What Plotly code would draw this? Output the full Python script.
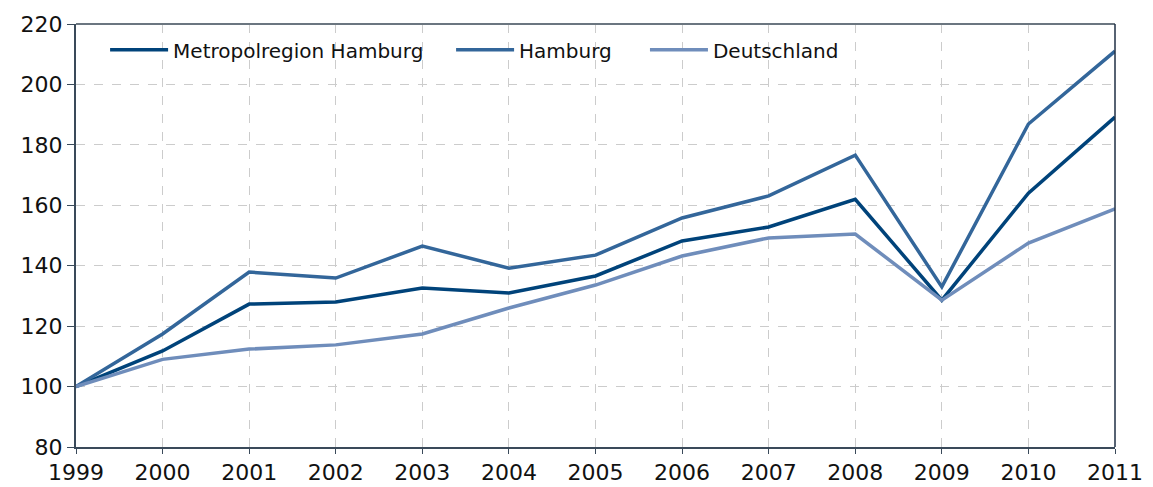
import plotly.graph_objects as go

years = [1999, 2000, 2001, 2002, 2003, 2004, 2005, 2006, 2007, 2008, 2009, 2010, 2011]
metropolregion = [100, 111.8, 127.3, 128.0, 132.6, 131.0, 136.6, 148.2, 152.8, 162.0, 128.6, 164.0, 189.2]
hamburg = [100, 117.4, 137.9, 135.9, 146.5, 139.2, 143.5, 155.8, 163.1, 176.6, 133.0, 186.9, 211.0]
deutschland = [100, 109.0, 112.4, 113.8, 117.4, 126.0, 133.6, 143.2, 149.2, 150.5, 128.6, 147.5, 158.8]

names = ["Metropolregion Hamburg", "Hamburg", "Deutschland"]
colors = ["#00437a", "#33669a", "#6f8dbb"]
legend_ids = ["legend", "legend2", "legend3"]
legend_x = [0.028, 0.361, 0.5476]

fig = go.Figure()
for name, vals, col, lg in zip(names, [metropolregion, hamburg, deutschland], colors, legend_ids):
    fig.add_trace(go.Scatter(x=years, y=vals, name=name, mode="lines", legend=lg,
                             line=dict(color=col, width=3.5)))

font = "DejaVu Sans, Verdana, sans-serif"
legend_style = dict(orientation="h", y=0.985, xanchor="left", yanchor="top",
                    bgcolor="rgba(255,255,255,0)", font=dict(size=20), itemwidth=58)
fig.update_layout(
    width=1145, height=479,
    margin=dict(l=68, r=38, t=16, b=40, autoexpand=False),
    plot_bgcolor="white", paper_bgcolor="white",
    font=dict(family=font, size=22, color="#111111"),
    showlegend=True,
    legend=dict(x=legend_x[0], **legend_style),
    legend2=dict(x=legend_x[1], **legend_style),
    legend3=dict(x=legend_x[2], **legend_style),
)
fig.update_xaxes(range=[1999, 2011], tickmode="array", tickvals=years,
                 ticktext=[str(y) for y in years], automargin=False,
                 showgrid=True, gridcolor="#cccccc", griddash="dash", gridwidth=1,
                 showline=True, linecolor="#3a4a5a", linewidth=2,
                 ticks="outside", ticklen=5, tickcolor="#3a4a5a",
                 mirror=False, zeroline=False)
fig.update_yaxes(range=[80, 220], dtick=20, automargin=False,
                 showgrid=True, gridcolor="#cccccc", griddash="dash", gridwidth=1,
                 showline=True, linecolor="#3a4a5a", linewidth=2,
                 ticks="outside", ticklen=7, tickcolor="#3a4a5a",
                 zeroline=False)
# top and right borders
fig.add_shape(type="line", xref="paper", yref="paper", x0=0, x1=1, y0=1, y1=1,
              line=dict(color="#6b7680", width=2))
fig.add_shape(type="line", xref="paper", yref="paper", x0=1, x1=1, y0=0, y1=1,
              line=dict(color="#1f2f44", width=1.5))
fig.write_html("out.html")
